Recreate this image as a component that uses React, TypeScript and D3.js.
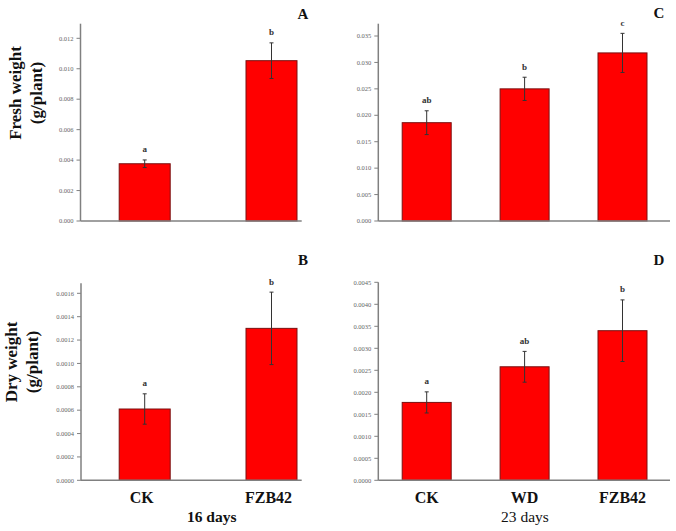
import React from "react";
import * as d3 from "d3";

const catsA = ["CK", "FZB42"];
const freshA = [0.00376, 0.01053];
const freshAErr = [0.00025, 0.00117];
const lettersA = ["a", "b"];

const dryB = [0.00061, 0.0013];
const dryBErr = [0.00013, 0.00031];
const lettersB = ["a", "b"];

const catsC = ["CK", "WD", "FZB42"];
const freshC = [0.0186, 0.025, 0.0318];
const freshCErr = [0.00225, 0.0022, 0.0037];
const lettersC = ["ab", "b", "c"];

const dryD = [0.00177, 0.00258, 0.0034];
const dryDErr = [0.00024, 0.00035, 0.0007];
const lettersD = ["a", "ab", "b"];

const ticksA = [0, 0.002, 0.004, 0.006, 0.008, 0.01, 0.012];
const ticksB = [0, 0.0002, 0.0004, 0.0006, 0.0008, 0.001, 0.0012, 0.0014, 0.0016];
const ticksC = [0, 0.005, 0.01, 0.015, 0.02, 0.025, 0.03, 0.035];
const ticksD = [0, 0.0005, 0.001, 0.0015, 0.002, 0.0025, 0.003, 0.0035, 0.004, 0.0045];

const serif = "'Liberation Serif', 'Times New Roman', serif";

type PanelProps = {
  cats: string[];
  vals: number[];
  errs: number[];
  letters: string[];
  ticks: number[];
  tickMax: number;
  decimals: number;
  axisX: number;
  axisEnd: number;
  y0: number;
  yTickTop: number;
  axisTop: number;
  c0: number;
  c1: number;
  barW: number;
  label: string;
  labelX: number;
  labelY: number;
};

function Panel(p: PanelProps) {
  const y = d3.scaleLinear().domain([0, p.tickMax]).range([p.y0, p.yTickTop]);
  const x = d3.scalePoint<string>().domain(p.cats).range([p.c0, p.c1]);
  const fmt = d3.format(`.${p.decimals}f`);
  return (
    <g>
      {p.cats.map((c, i) => {
        const cx = x(c)!;
        const top = y(p.vals[i]);
        const eTop = y(p.vals[i] + p.errs[i]);
        const eBot = y(p.vals[i] - p.errs[i]);
        return (
          <g key={c}>
            <rect
              x={cx - p.barW / 2}
              y={top}
              width={p.barW}
              height={p.y0 - top}
              fill="#ff0000"
              stroke="#7a1010"
              strokeWidth={1}
            />
            <line x1={cx} x2={cx} y1={eTop} y2={eBot} stroke="#333" strokeWidth={1} />
            <line x1={cx - 2} x2={cx + 2} y1={eTop} y2={eTop} stroke="#333" strokeWidth={1} />
            <line x1={cx - 2} x2={cx + 2} y1={eBot} y2={eBot} stroke="#333" strokeWidth={1} />
            <text
              x={cx}
              y={eTop - 7.5}
              textAnchor="middle"
              fontFamily={serif}
              fontWeight="bold"
              fontSize={9}
              fill="#333"
            >
              {p.letters[i]}
            </text>
          </g>
        );
      })}
      <line x1={p.axisX} x2={p.axisX} y1={p.axisTop} y2={p.y0} stroke="#808080" strokeWidth={1.5} />
      <line x1={p.axisX} x2={p.axisEnd} y1={p.y0} y2={p.y0} stroke="#808080" strokeWidth={1.5} />
      {p.ticks.map((t) => (
        <g key={t}>
          <line x1={p.axisX - 4} x2={p.axisX} y1={y(t)} y2={y(t)} stroke="#808080" strokeWidth={1} />
          <text
            x={p.axisX - 7}
            y={y(t) + 2.2}
            textAnchor="end"
            fontFamily={serif}
            fontSize={6.5}
            fill="#666"
          >
            {fmt(t)}
          </text>
        </g>
      ))}
      <text
        x={p.labelX}
        y={p.labelY}
        textAnchor="middle"
        fontFamily={serif}
        fontWeight="bold"
        fontSize={15}
        fill="#111"
      >
        {p.label}
      </text>
    </g>
  );
}

export default function App() {
  const xA = d3.scalePoint<string>().domain(catsA).range([144.7, 271.5]);
  const xC = d3.scalePoint<string>().domain(catsC).range([426.7, 622.5]);
  return (
    <svg width={676} height={531} style={{ position: "absolute", left: 0, top: 0, background: "#fff" }}>
      <rect x={0} y={0} width={676} height={531} fill="#fff" />
      <Panel
        cats={catsA}
        vals={freshA}
        errs={freshAErr}
        letters={lettersA}
        ticks={ticksA}
        tickMax={0.012}
        decimals={3}
        axisX={80.5}
        axisEnd={301.7}
        y0={221}
        yTickTop={38.3}
        axisTop={23.7}
        c0={144.7}
        c1={271.5}
        barW={51}
        label="A"
        labelX={303}
        labelY={18.5}
      />
      <Panel
        cats={catsA}
        vals={dryB}
        errs={dryBErr}
        letters={lettersB}
        ticks={ticksB}
        tickMax={0.0016}
        decimals={4}
        axisX={81}
        axisEnd={301.7}
        y0={480.3}
        yTickTop={293.3}
        axisTop={283.3}
        c0={144.7}
        c1={271.5}
        barW={51}
        label="B"
        labelX={303}
        labelY={264.5}
      />
      <Panel
        cats={catsC}
        vals={freshC}
        errs={freshCErr}
        letters={lettersC}
        ticks={ticksC}
        tickMax={0.035}
        decimals={3}
        axisX={378.3}
        axisEnd={670}
        y0={221}
        yTickTop={36}
        axisTop={23.7}
        c0={426.7}
        c1={622.5}
        barW={49}
        label="C"
        labelX={659}
        labelY={17.5}
      />
      <Panel
        cats={catsC}
        vals={dryD}
        errs={dryDErr}
        letters={lettersD}
        ticks={ticksD}
        tickMax={0.0045}
        decimals={4}
        axisX={378.3}
        axisEnd={670}
        y0={480.3}
        yTickTop={282.3}
        axisTop={282.3}
        c0={426.7}
        c1={622.5}
        barW={49}
        label="D"
        labelX={659}
        labelY={264.5}
      />
      {/* Y axis titles */}
      <g transform="translate(15.5,93) rotate(-90)">
        <text textAnchor="middle" y={5} fontFamily={serif} fontWeight="bold" fontSize={17} fill="#111">
          Fresh weight
        </text>
        <text textAnchor="middle" y={26} fontFamily={serif} fontWeight="bold" fontSize={17} fill="#111">
          (g/plant)
        </text>
      </g>
      <g transform="translate(12,362) rotate(-90)">
        <text textAnchor="middle" y={5} fontFamily={serif} fontWeight="bold" fontSize={17} fill="#111">
          Dry weight
        </text>
        <text textAnchor="middle" y={26} fontFamily={serif} fontWeight="bold" fontSize={17} fill="#111">
          (g/plant)
        </text>
      </g>
      {/* X category labels */}
      {catsA.map((c) => (
        <text key={"xa" + c} x={xA(c)! - 3} y={503} textAnchor="middle" fontFamily={serif} fontWeight="bold" fontSize={16} fill="#111">
          {c}
        </text>
      ))}
      <text x={211.7} y={522} textAnchor="middle" fontFamily={serif} fontWeight="bold" fontSize={15.5} fill="#111">
        16 days
      </text>
      {catsC.map((c) => (
        <text key={"xc" + c} x={xC(c)!} y={503} textAnchor="middle" fontFamily={serif} fontWeight="bold" fontSize={16} fill="#111">
          {c}
        </text>
      ))}
      <text x={525} y={522} textAnchor="middle" fontFamily={serif} fontSize={15.5} fill="#111">
        23 days
      </text>
    </svg>
  );
}
